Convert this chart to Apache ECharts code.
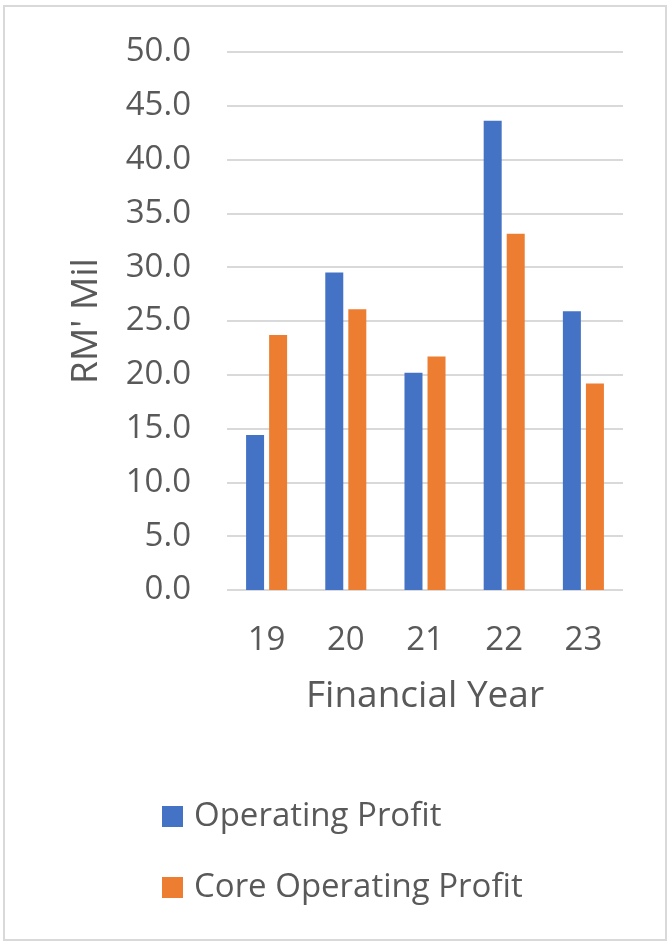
<!DOCTYPE html>
<html>
<head>
<meta charset="utf-8">
<script src="https://cdn.jsdelivr.net/npm/echarts@6/dist/echarts.min.js"></script>
<style>
html,body{margin:0;padding:0;background:#fff;}
#chart{width:669px;height:942px;}
</style>
</head>
<body>
<div id="chart"></div>
<script>
const categories = ['19', '20', '21', '22', '23'];
const operatingProfit = [14.4, 29.5, 20.2, 43.6, 25.9];
const coreOperatingProfit = [23.7, 26.1, 21.7, 33.1, 19.2];
const seriesNames = ['Operating Profit', 'Core Operating Profit'];
const yTicks = { min: 0, max: 50, interval: 5 };

const FONT = "'Open Sans', 'Noto Sans', sans-serif";
const TXT = '#595959';

const chart = echarts.init(document.getElementById('chart'), null, { renderer: 'canvas' });
chart.setOption({
  animation: false,
  backgroundColor: '#ffffff',
  graphic: [{
    type: 'rect',
    shape: { x: 4, y: 6, width: 662, height: 934 },
    style: { fill: 'none', stroke: '#d9d9d9', lineWidth: 2 },
    z: 100
  }],
  grid: { left: 227, right: 46, top: 52, bottom: 352, containLabel: false },
  legend: {
    orient: 'vertical',
    left: 162,
    top: 800,
    padding: 0,
    itemWidth: 21,
    itemHeight: 21,
    itemGap: 38,
    icon: 'rect',
    data: seriesNames,
    textStyle: { color: TXT, fontFamily: FONT, fontSize: 33, lineHeight: 33, padding: [0, 0, 0, 6] }
  },
  xAxis: {
    type: 'category',
    data: categories,
    name: 'Financial Year',
    nameLocation: 'middle',
    nameGap: 88,
    nameTextStyle: { color: TXT, fontFamily: FONT, fontSize: 37 },
    axisLine: { show: false },
    axisTick: { show: false },
    axisLabel: { color: TXT, fontFamily: FONT, fontSize: 33, margin: 34 }
  },
  yAxis: {
    type: 'value',
    min: yTicks.min,
    max: yTicks.max,
    interval: yTicks.interval,
    name: "RM' Mil",
    nameLocation: 'middle',
    nameGap: 122,
    nameTextStyle: { color: TXT, fontFamily: FONT, fontSize: 37 },
    axisLine: { show: false },
    axisTick: { show: false },
    axisLabel: { color: TXT, fontFamily: FONT, fontSize: 33, margin: 36, formatter: v => v.toFixed(1) },
    splitLine: { lineStyle: { color: '#d9d9d9', width: 2 } }
  },
  series: [
    { name: seriesNames[0], type: 'bar', data: operatingProfit, barWidth: 18, barGap: '28%',
      itemStyle: { color: '#4472C4' } },
    { name: seriesNames[1], type: 'bar', data: coreOperatingProfit, barWidth: 18, barGap: '28%',
      itemStyle: { color: '#ED7D31' } }
  ]
});
</script>
</body>
</html>
